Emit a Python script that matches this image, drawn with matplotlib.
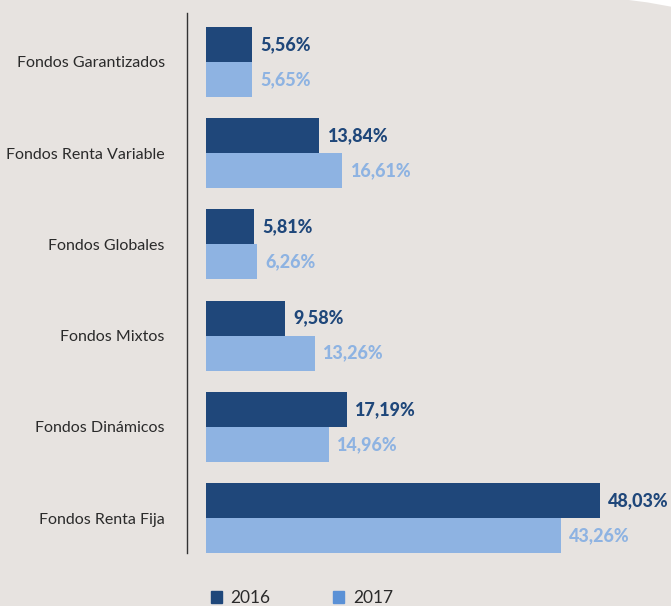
import matplotlib
matplotlib.use('Agg')
import matplotlib.pyplot as plt
from matplotlib.patches import Patch, Polygon
import numpy as np

# data
categories = ['Fondos Garantizados', 'Fondos Renta Variable', 'Fondos Globales',
              'Fondos Mixtos', 'Fondos Dinámicos', 'Fondos Renta Fija']
values_2016 = [5.56, 13.84, 5.81, 9.58, 17.19, 48.03]
values_2017 = [5.65, 16.61, 6.26, 13.26, 14.96, 43.26]
years = ['2016', '2017']

# colours
bg = '#e7e3e0'
dark = '#1f477a'
light = '#8eb3e2'
light_legend = '#5b91d6'

plt.rcParams['font.family'] = ['Lato', 'DejaVu Sans']

fig = plt.figure(figsize=(6.71, 6.06), dpi=100, facecolor=bg)
ax = fig.add_axes([187/671, 53/606, 484/671, 540/606])
ax.set_facecolor(bg)

# white curved corner at the top right
fig.patches.append(Polygon([(0.937, 1.0), (0.965, 0.996), (0.99, 0.991), (1.0, 0.989), (1.0, 1.0)],
                           closed=True, transform=fig.transFigure, facecolor='white',
                           edgecolor='none', zorder=0))

y = np.arange(len(categories))
h = 0.383
ax.barh(y - h/2, values_2016, height=h, color=dark, zorder=3)
ax.barh(y + h/2, values_2017, height=h, color=light, zorder=3)

# value labels
for yi, v in zip(y, values_2016):
    ax.annotate(f'{v:.2f}%'.replace('.', ','), (v, yi - h/2), xytext=(6, 0),
                textcoords='offset points', va='center', ha='left',
                fontsize=13, fontweight='black', color=dark)
for yi, v in zip(y, values_2017):
    ax.annotate(f'{v:.2f}%'.replace('.', ','), (v, yi + h/2), xytext=(6, 0),
                textcoords='offset points', va='center', ha='left',
                fontsize=13, fontweight='black', color=light)

ax.set_yticks(y)
ax.set_yticklabels(categories, fontsize=11.5, color='#2a2a2a')
ax.tick_params(axis='y', length=0, pad=16)
ax.set_xticks([])
ax.set_ylim(5.383, -0.536)
ax.set_xlim(-19/8.2, 465/8.2)
for side in ['top', 'right', 'bottom']:
    ax.spines[side].set_visible(False)
ax.spines['left'].set_color('#333333')
ax.spines['left'].set_linewidth(1.0)

# legend
handles = [Patch(color=dark), Patch(color=light_legend)]
fig.legend(handles, years, loc='center left', bbox_to_anchor=(202/671, 8/606),
           ncol=2, frameon=False, handlelength=0.65, handleheight=0.65,
           handletextpad=0.5, columnspacing=3.6, fontsize=12.5,
           labelcolor='#2a2a2a', borderpad=0)

fig.savefig('out.png', dpi=100, facecolor=bg)
